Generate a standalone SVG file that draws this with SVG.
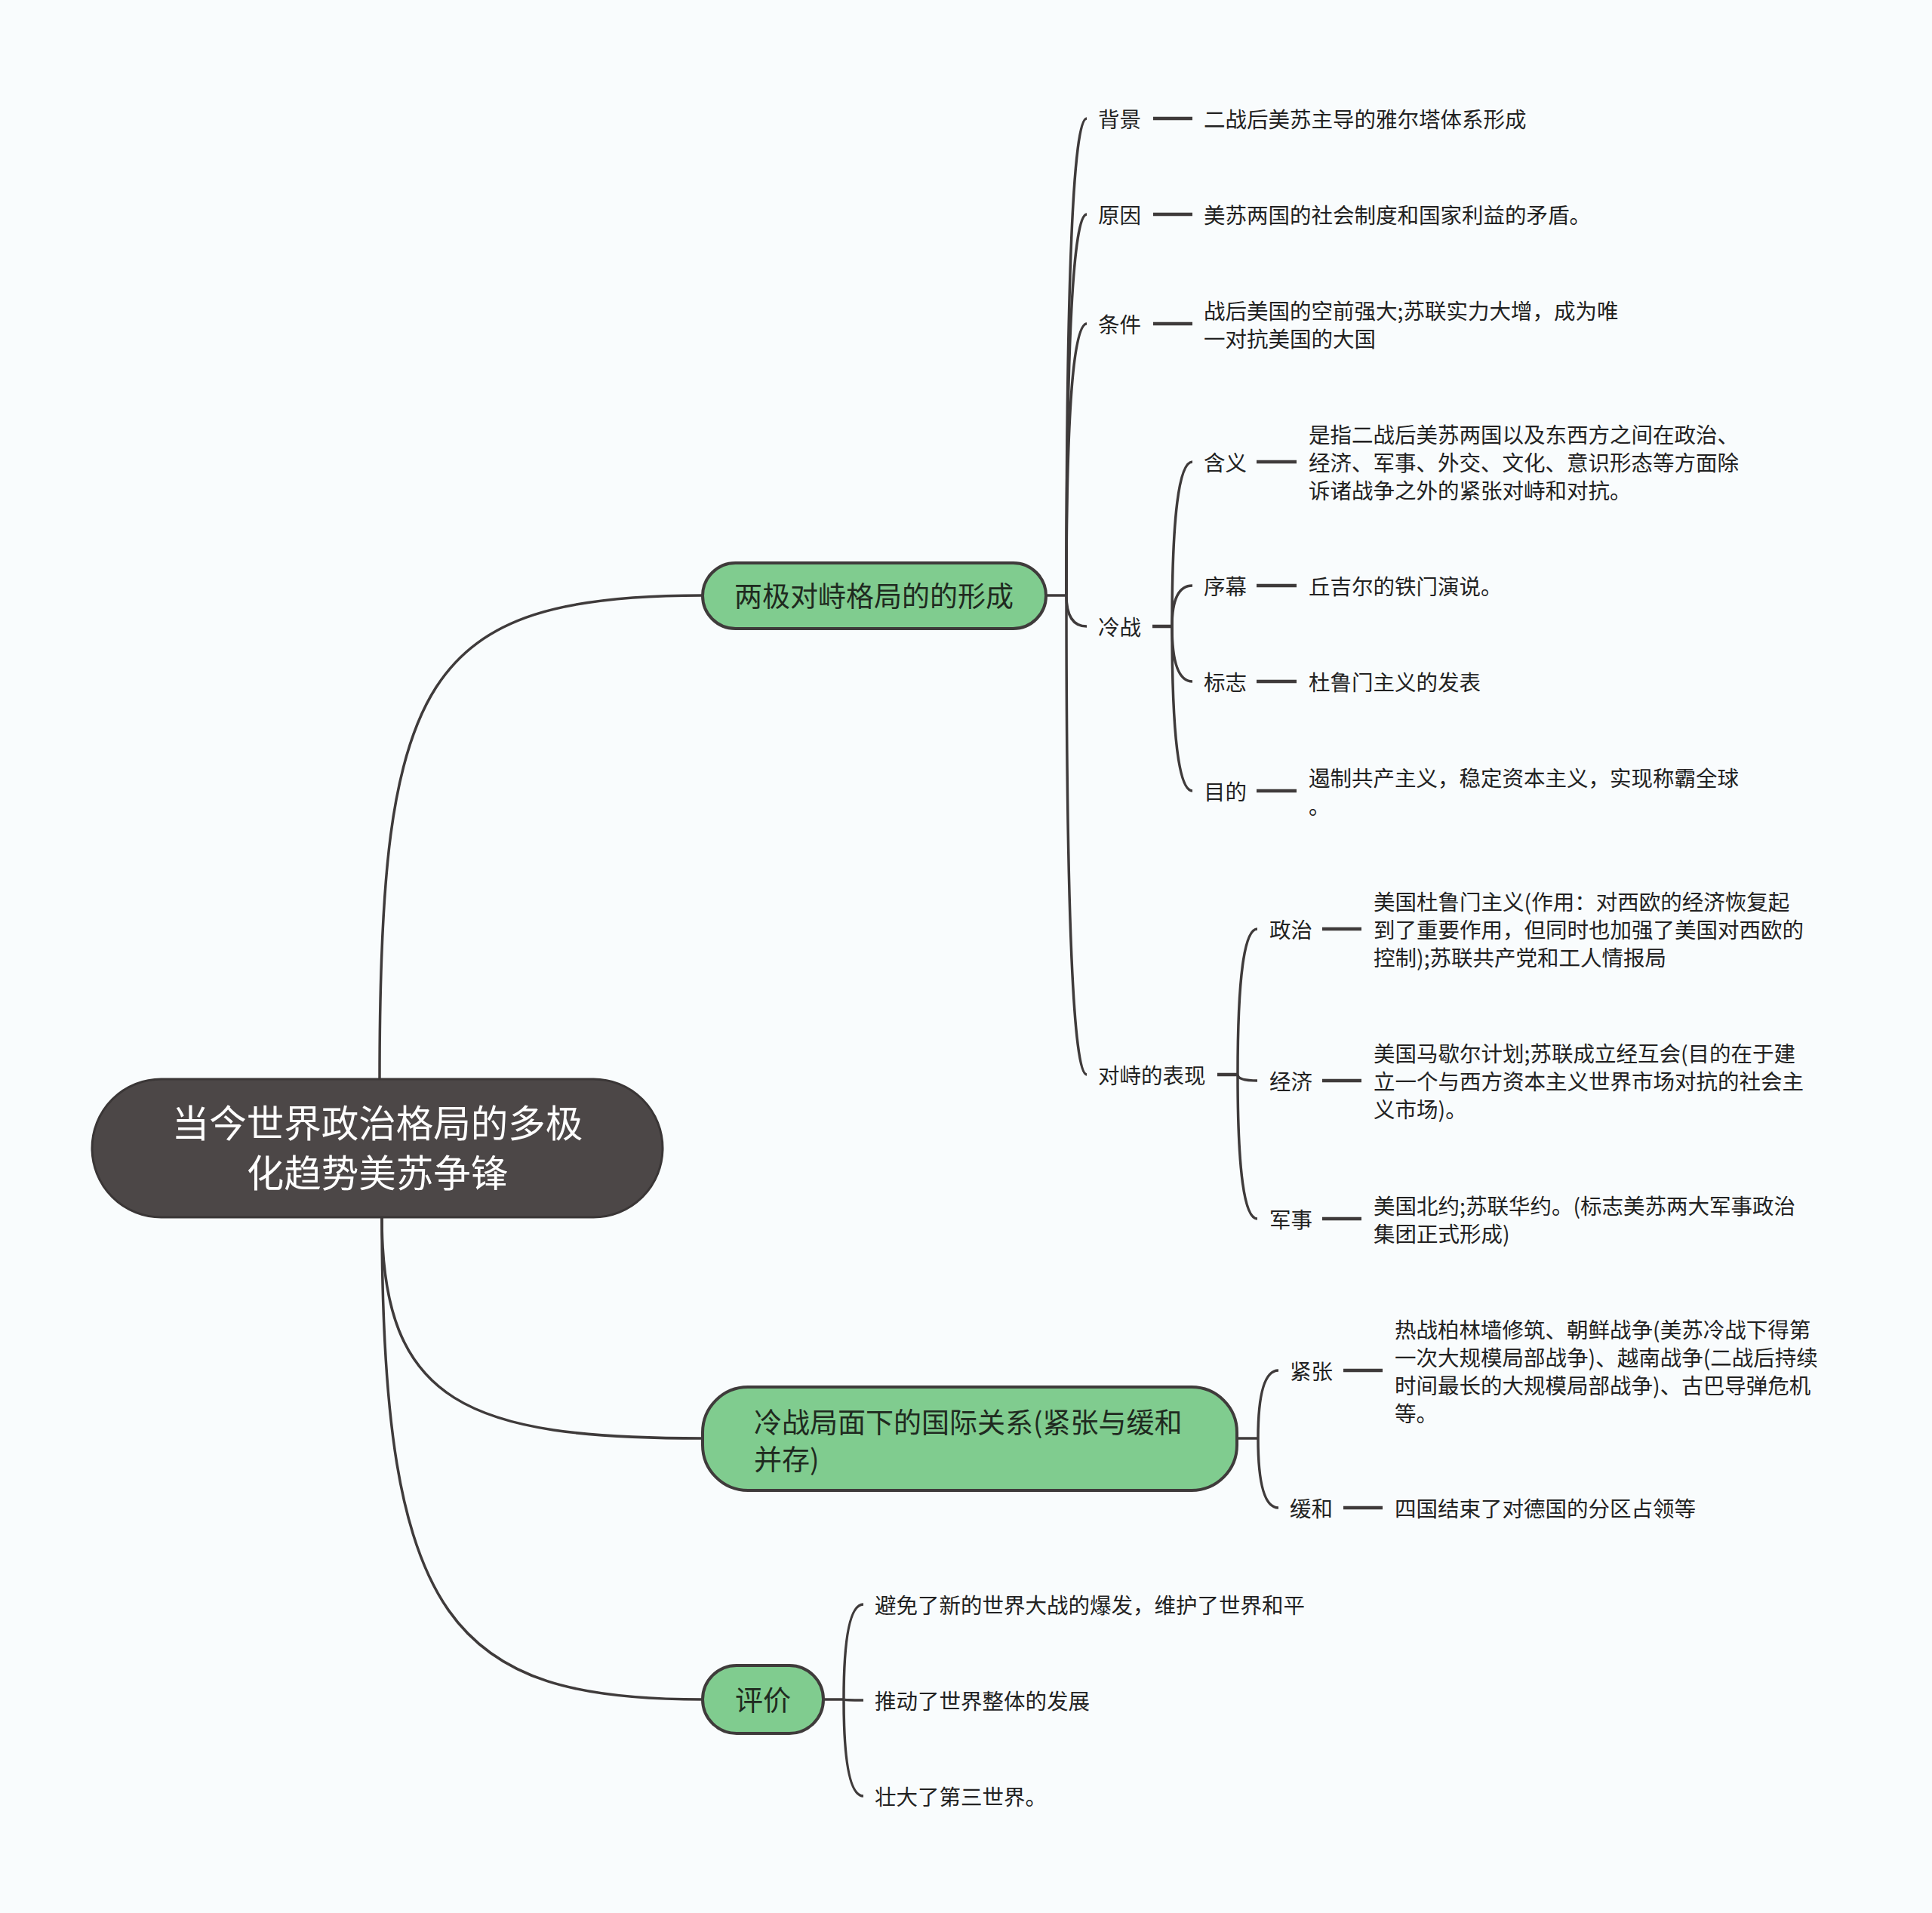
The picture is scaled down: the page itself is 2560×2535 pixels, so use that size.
<svg xmlns="http://www.w3.org/2000/svg" width="2560" height="2535" viewBox="0 0 2560 2535">
<style>
.bg{fill:#f9fcfd}
.ln{fill:none;stroke:#3f3b3b;stroke-width:3.5;stroke-linecap:butt}
.ds{fill:none;stroke:#3f3b3b;stroke-width:4.5}
.t{font-family:"Noto Sans CJK SC","Liberation Sans",sans-serif;font-size:28.5px;fill:#222222}
.bt{font-family:"Noto Sans CJK SC","Liberation Sans",sans-serif;font-size:37px;fill:#1f2a20}
.rt{font-family:"Noto Sans CJK SC","Liberation Sans",sans-serif;font-size:49.5px;fill:#ffffff;text-anchor:middle}
.br{fill:#80cc8f;stroke:#3f3b3b;stroke-width:4}
.root{fill:#4c4747;stroke:#3a3636;stroke-width:3}
</style>
<rect class="bg" x="0" y="0" width="2560" height="2535"/>
<g id="connectors">
<path class="ln" d="M503 1430 C503 900 560 789 931 789"/>
<path class="ln" d="M506 1613 C506 1860 620 1906 931 1906"/>
<path class="ln" d="M506 1613 C506 2150 600 2252 931 2252"/>
<path class="ln" d="M1386 789 L1413 789"/>
<path class="ln" d="M1413 789 Q1413 157 1440 157"/>
<path class="ln" d="M1413 789 Q1413 284 1440 284"/>
<path class="ln" d="M1413 789 Q1413 429 1440 429"/>
<path class="ln" d="M1413 789 Q1413 830 1440 830"/>
<path class="ln" d="M1413 789 Q1413 1424 1440 1424"/>
<path class="ds" d="M1528 157 L1580 157"/>
<path class="ds" d="M1528 284 L1580 284"/>
<path class="ds" d="M1528 429 L1580 429"/>
<path class="ds" d="M1527 830 L1553 830"/>
<path class="ln" d="M1553 830 Q1553 612 1580 612"/>
<path class="ln" d="M1553 830 Q1553 776 1580 776"/>
<path class="ln" d="M1553 830 Q1553 903 1580 903"/>
<path class="ln" d="M1553 830 Q1553 1048 1580 1048"/>
<path class="ds" d="M1665 612 L1718 612"/>
<path class="ds" d="M1665 776 L1718 776"/>
<path class="ds" d="M1665 903 L1718 903"/>
<path class="ds" d="M1665 1048 L1718 1048"/>
<path class="ds" d="M1613 1424 L1640 1424"/>
<path class="ln" d="M1640 1424 Q1640 1231 1666 1231"/>
<path class="ln" d="M1640 1424 Q1640 1432 1666 1432"/>
<path class="ln" d="M1640 1424 Q1640 1615 1666 1615"/>
<path class="ds" d="M1752 1231 L1804 1231"/>
<path class="ds" d="M1752 1432 L1804 1432"/>
<path class="ds" d="M1752 1615 L1804 1615"/>
<path class="ln" d="M1639 1906 L1667 1906"/>
<path class="ln" d="M1667 1906 Q1667 1816 1694 1816"/>
<path class="ln" d="M1667 1906 Q1667 1998 1694 1998"/>
<path class="ds" d="M1780 1816 L1832 1816"/>
<path class="ds" d="M1780 1998 L1832 1998"/>
<path class="ln" d="M1091 2252 L1118 2252"/>
<path class="ln" d="M1118 2252 Q1118 2126 1144 2126"/>
<path class="ln" d="M1118 2252 Q1118 2253 1144 2253"/>
<path class="ln" d="M1118 2252 Q1118 2380 1144 2380"/>
</g>
<g id="root">
<rect class="root" x="122" y="1430" width="756" height="183" rx="91.5"/>
<text class="rt" x="500" y="1507">当今世界政治格局的多极</text>
<text class="rt" x="500" y="1573">化趋势美苏争锋</text>
</g>
<g id="b1">
<rect class="br" x="931" y="746" width="455" height="87" rx="43.5"/>
<text class="bt" x="1158" y="804" text-anchor="middle">两极对峙格局的的形成</text>
</g>
<g id="b2">
<rect class="br" x="931" y="1838" width="708" height="137" rx="60"/>
<text class="bt" x="999" y="1899">冷战局面下的国际关系(紧张与缓和</text>
<text class="bt" x="999" y="1948">并存)</text>
</g>
<g id="b3">
<rect class="br" x="931" y="2207" width="160" height="90" rx="45"/>
<text class="bt" x="1011" y="2267" text-anchor="middle">评价</text>
</g>
<g id="n-beijing"><text class="t" x="1455" y="169">背景</text></g>
<g id="l-beijing"><text class="t" x="1595" y="169">二战后美苏主导的雅尔塔体系形成</text></g>
<g id="n-yuanyin"><text class="t" x="1455" y="296">原因</text></g>
<g id="l-yuanyin"><text class="t" x="1595" y="296">美苏两国的社会制度和国家利益的矛盾。</text></g>
<g id="n-tiaojian"><text class="t" x="1455" y="441">条件</text></g>
<g id="l-tiaojian"><text class="t" x="1595" y="423">战后美国的空前强大;苏联实力大增，成为唯</text><text class="t" x="1595" y="460">一对抗美国的大国</text></g>
<g id="n-lengzhan"><text class="t" x="1455" y="842">冷战</text></g>
<g id="n-hanyi"><text class="t" x="1595" y="624">含义</text></g>
<g id="l-hanyi"><text class="t" x="1734" y="587">是指二战后美苏两国以及东西方之间在政治、</text><text class="t" x="1734" y="624">经济、军事、外交、文化、意识形态等方面除</text><text class="t" x="1734" y="661">诉诸战争之外的紧张对峙和对抗。</text></g>
<g id="n-xumu"><text class="t" x="1595" y="788">序幕</text></g>
<g id="l-xumu"><text class="t" x="1734" y="788">丘吉尔的铁门演说。</text></g>
<g id="n-biaozhi"><text class="t" x="1595" y="915">标志</text></g>
<g id="l-biaozhi"><text class="t" x="1734" y="915">杜鲁门主义的发表</text></g>
<g id="n-mudi"><text class="t" x="1595" y="1060">目的</text></g>
<g id="l-mudi"><text class="t" x="1734" y="1042">遏制共产主义，稳定资本主义，实现称霸全球</text><text class="t" x="1734" y="1079">。</text></g>
<g id="n-duizhi"><text class="t" x="1455" y="1436">对峙的表现</text></g>
<g id="n-zhengzhi"><text class="t" x="1682" y="1243">政治</text></g>
<g id="l-zhengzhi"><text class="t" x="1820" y="1206">美国杜鲁门主义(作用：对西欧的经济恢复起</text><text class="t" x="1820" y="1243">到了重要作用，但同时也加强了美国对西欧的</text><text class="t" x="1820" y="1280">控制);苏联共产党和工人情报局</text></g>
<g id="n-jingji"><text class="t" x="1682" y="1444">经济</text></g>
<g id="l-jingji"><text class="t" x="1820" y="1407">美国马歇尔计划;苏联成立经互会(目的在于建</text><text class="t" x="1820" y="1444">立一个与西方资本主义世界市场对抗的社会主</text><text class="t" x="1820" y="1481">义市场)。</text></g>
<g id="n-junshi"><text class="t" x="1682" y="1627">军事</text></g>
<g id="l-junshi"><text class="t" x="1820" y="1609">美国北约;苏联华约。(标志美苏两大军事政治</text><text class="t" x="1820" y="1646">集团正式形成)</text></g>
<g id="n-jinzhang"><text class="t" x="1709" y="1828">紧张</text></g>
<g id="l-jinzhang"><text class="t" x="1848" y="1773">热战柏林墙修筑、朝鲜战争(美苏冷战下得第</text><text class="t" x="1848" y="1810">一次大规模局部战争)、越南战争(二战后持续</text><text class="t" x="1848" y="1847">时间最长的大规模局部战争)、古巴导弹危机</text><text class="t" x="1848" y="1884">等。</text></g>
<g id="n-huanhe"><text class="t" x="1709" y="2010">缓和</text></g>
<g id="l-huanhe"><text class="t" x="1848" y="2010">四国结束了对德国的分区占领等</text></g>
<g id="l-pj1"><text class="t" x="1159" y="2138">避免了新的世界大战的爆发，维护了世界和平</text></g>
<g id="l-pj2"><text class="t" x="1159" y="2265">推动了世界整体的发展</text></g>
<g id="l-pj3"><text class="t" x="1159" y="2392">壮大了第三世界。</text></g>
</svg>
